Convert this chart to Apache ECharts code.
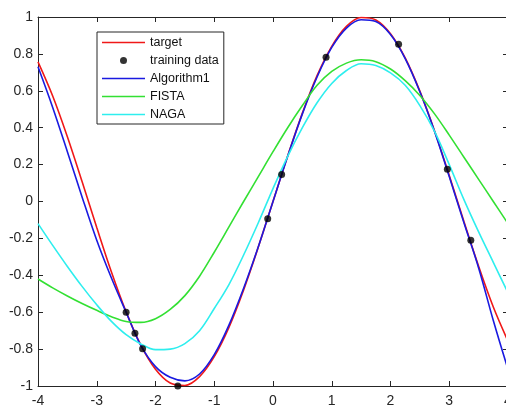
<!DOCTYPE html>
<html>
<head>
<meta charset="utf-8">
<script src="https://cdn.jsdelivr.net/npm/echarts@6/dist/echarts.min.js"></script>
<style>
  html, body { margin: 0; padding: 0; background: #fff; }
  #chart { width: 506px; height: 408px; }
</style>
</head>
<body>
<div id="chart"></div>
<script>
// x positions of the curve samples
const xs = [-4, -3.75, -3.5, -3.25, -3, -2.75, -2.5, -2.25, -2, -1.75, -1.5, -1.25, -1, -0.75, -0.5, -0.25,
  0, 0.25, 0.5, 0.75, 1, 1.25, 1.5, 1.75, 2, 2.25, 2.5, 2.75, 3, 3.25, 3.5, 3.75, 4]

const target = [0.757, 0.572, 0.351, 0.108, -0.141, -0.382, -0.598, -0.778, -0.909, -0.984, -0.997, -0.949, -0.841, -0.682, -0.479, -0.247,
  0, 0.247, 0.479, 0.682, 0.841, 0.949, 0.997, 0.984, 0.909, 0.778, 0.598, 0.382, 0.141, -0.108, -0.351, -0.572, -0.757]

const algorithm1 = [0.73, 0.51, 0.27, 0.025, -0.21, -0.415, -0.60, -0.78, -0.895, -0.953, -0.972, -0.935, -0.83, -0.67, -0.47, -0.245,
  0, 0.245, 0.475, 0.675, 0.835, 0.94, 0.985, 0.975, 0.905, 0.775, 0.595, 0.38, 0.135, -0.115, -0.36, -0.645, -0.91]

const fista = [-0.42, -0.468, -0.512, -0.553, -0.59, -0.624, -0.65, -0.655, -0.635, -0.585, -0.51, -0.405, -0.275, -0.138, 0, 0.135,
  0.27, 0.40, 0.52, 0.63, 0.705, 0.75, 0.768, 0.758, 0.718, 0.655, 0.575, 0.475, 0.36, 0.24, 0.12, 0, -0.12]

const naga = [-0.12, -0.238, -0.352, -0.46, -0.56, -0.65, -0.722, -0.772, -0.803, -0.80, -0.77, -0.70, -0.58, -0.45, -0.29, -0.115,
  0.07, 0.245, 0.40, 0.535, 0.64, 0.71, 0.747, 0.737, 0.697, 0.63, 0.52, 0.38, 0.2, 0.01, -0.165, -0.33, -0.495]

// training samples (black dots)
const trainX = [-2.5, -2.35, -2.22, -1.62, -0.09, 0.147, 0.903, 2.138, 2.968, 3.367]
const trainY = [-0.60, -0.714, -0.798, -1.0, -0.093, 0.147, 0.782, 0.852, 0.175, -0.21]

const lineIcon = 'path://M0,0h43v1.6h-43z'
const legendItems = [
  { name: 'target', icon: lineIcon },
  { name: 'training data', icon: 'circle' },
  { name: 'Algorithm1', icon: lineIcon },
  { name: 'FISTA', icon: lineIcon },
  { name: 'NAGA', icon: lineIcon }
]

const axisColor = '#262626'
const font = 'Liberation Sans, Arial, sans-serif'

const zip = (a, b) => a.map((v, i) => [v, b[i]])

const lineSeries = (name, values, color) => ({
  name: name,
  type: 'line',
  data: zip(xs, values),
  smooth: 0.35,
  symbol: 'none',
  lineStyle: { color: color, width: 1.6 },
  itemStyle: { color: color },
  z: 2
})

const xAxisBase = {
  type: 'value',
  min: -4,
  max: 4,
  interval: 1,
  axisLine: { show: true, onZero: false, lineStyle: { color: axisColor, width: 1 } },
  axisTick: { show: true, inside: true, length: 5, lineStyle: { color: axisColor } },
  splitLine: { show: false }
}

const yAxisBase = {
  type: 'value',
  min: -1,
  max: 1,
  interval: 0.2,
  axisLine: { show: true, onZero: false, lineStyle: { color: axisColor, width: 1 } },
  axisTick: { show: true, inside: true, length: 5, lineStyle: { color: axisColor } },
  splitLine: { show: false }
}

const option = {
  animation: false,
  backgroundColor: '#fff',
  grid: { left: 38, top: 17, width: 470, height: 369, outerBoundsMode: 'none', containLabel: false },
  xAxis: [
    Object.assign({}, xAxisBase, {
      position: 'bottom',
      axisLabel: { color: axisColor, fontSize: 14, fontFamily: font, margin: 8 }
    }),
    Object.assign({}, xAxisBase, { position: 'top', axisLabel: { show: false } })
  ],
  yAxis: [
    Object.assign({}, yAxisBase, {
      position: 'left',
      axisLabel: { color: axisColor, fontSize: 14, fontFamily: font, margin: 5 }
    }),
    Object.assign({}, yAxisBase, { position: 'right', axisLabel: { show: false } })
  ],
  legend: {
    data: legendItems,
    orient: 'vertical',
    left: 97,
    top: 32,
    itemWidth: 43,
    itemHeight: 7,
    itemGap: 5,
    padding: [4, 5, 3, 5],
    borderColor: axisColor,
    borderWidth: 1,
    backgroundColor: '#fff',
    textStyle: { color: '#111', fontSize: 12.5, fontFamily: font }
  },
  series: [
    lineSeries('target', target, '#f01818'),
    {
      name: 'training data',
      type: 'scatter',
      data: zip(trainX, trainY),
      symbol: 'circle',
      symbolSize: 7,
      itemStyle: { color: '#000' },
      z: 5
    },
    lineSeries('Algorithm1', algorithm1, '#1a1ae0'),
    lineSeries('FISTA', fista, '#33e033'),
    lineSeries('NAGA', naga, '#2eeeee')
  ]
}

const chart = echarts.init(document.getElementById('chart'))
chart.setOption(option)
</script>
</body>
</html>
